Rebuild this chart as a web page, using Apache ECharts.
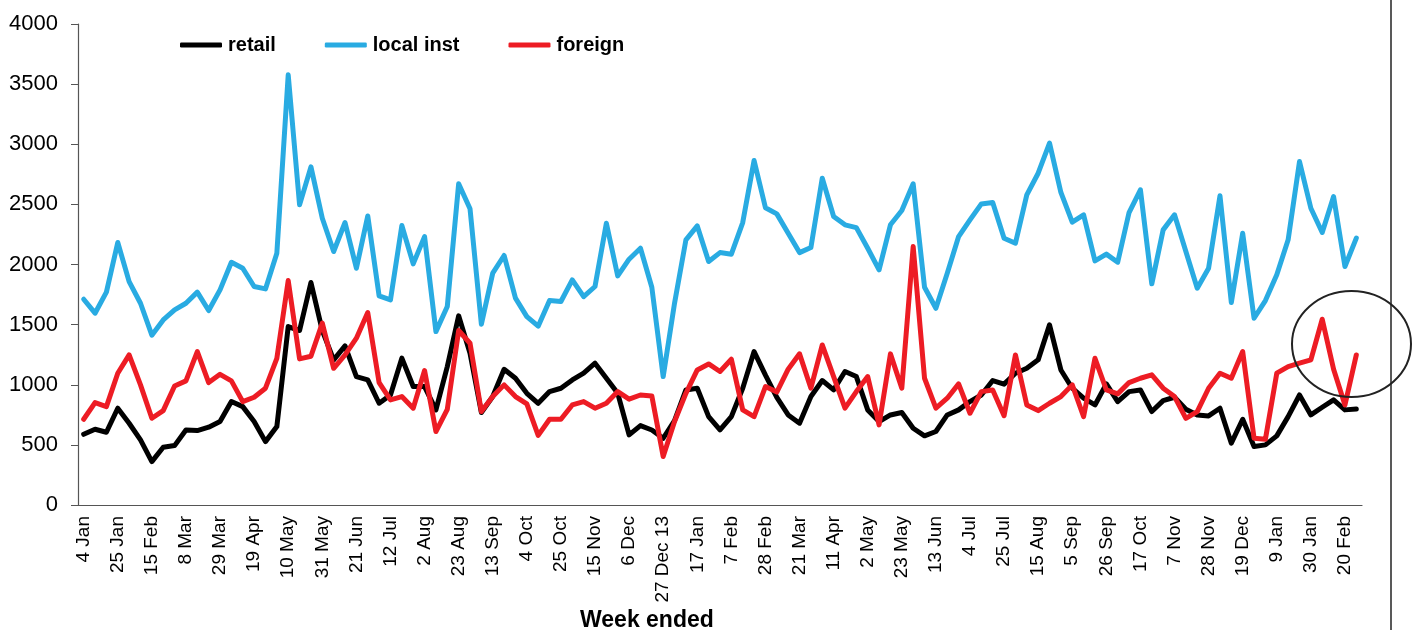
<!DOCTYPE html>
<html>
<head>
<meta charset="utf-8">
<script src="https://cdn.jsdelivr.net/npm/echarts@6/dist/echarts.min.js"></script>
<style>
  html, body { margin: 0; padding: 0; background: #fff; }
  #chart { width: 1419px; height: 630px; }
</style>
</head>
<body>
<div id="chart"></div>
<script>
// labels shown every third week
const tickLabels = ['4 Jan', '25 Jan', '15 Feb', '8 Mar', '29 Mar', '19 Apr', '10 May', '31 May',
  '21 Jun', '12 Jul', '2 Aug', '23 Aug', '13 Sep', '4 Oct', '25 Oct', '15 Nov', '6 Dec',
  '27 Dec 13', '17 Jan', '7 Feb', '28 Feb', '21 Mar', '11 Apr', '2 May', '23 May', '13 Jun',
  '4 Jul', '25 Jul', '15 Aug', '5 Sep', '26 Sep', '17 Oct', '7 Nov', '28 Nov', '19 Dec',
  '9 Jan', '30 Jan', '20 Feb']

const retail = [588, 630, 605, 805, 680, 541, 361, 480, 494, 624, 619, 647, 694, 860, 818, 694,
  527, 652, 1484, 1451, 1850, 1450, 1207, 1323, 1068, 1040, 846, 915, 1221, 985, 985, 791,
  1151, 1573, 1262, 769, 902, 1129, 1054, 929, 846, 943, 971, 1040, 1096, 1179, 1054, 929,
  583, 660, 624, 555, 702, 957, 971, 735, 624, 735, 971, 1276, 1080, 895, 749, 680, 902,
  1035, 957, 1110, 1068, 791, 694, 749, 769, 638, 575, 611, 749, 791, 860, 915, 1035, 1005,
  1096, 1137, 1207, 1498, 1123, 971, 888, 832, 1007, 860, 943, 957, 777, 868, 896, 796, 749,
  741, 805, 514, 713, 486, 500, 575, 735, 915, 749, 813, 874, 791, 799]

const localInst = [1711, 1595, 1770, 2183, 1858, 1678, 1412, 1539, 1623, 1678, 1770, 1617, 1789,
  2019, 1969, 1817, 1797, 2094, 3577, 2496, 2812, 2385, 2108, 2349, 1969, 2404, 1739, 1706,
  2324, 2005, 2232, 1442, 1650, 2671, 2463, 1503, 1928, 2075, 1720, 1567, 1487, 1700, 1692,
  1872, 1733, 1817, 2343, 1905, 2044, 2135, 1811, 1068, 1678, 2205, 2321, 2025, 2099, 2086,
  2349, 2865, 2472, 2421, 2260, 2099, 2141, 2718, 2399, 2330, 2307, 2135, 1955, 2330, 2449,
  2671, 1811, 1636, 1928, 2232, 2371, 2504, 2515, 2219, 2177, 2579, 2759, 3009, 2599, 2352,
  2413, 2030, 2086, 2019, 2432, 2621, 1839, 2288, 2413, 2108, 1803, 1969, 2571, 1684, 2260,
  1553, 1700, 1914, 2205, 2856, 2468, 2266, 2565, 1983, 2219]

const foreign = [713, 852, 818, 1096, 1248, 999, 721, 785, 990, 1032, 1276, 1018, 1087, 1032, 860,
  896, 971, 1220, 1867, 1215, 1237, 1512, 1137, 1248, 1387, 1600, 1018, 874, 902, 805, 1118,
  611, 796, 1451, 1345, 777, 902, 999, 902, 841, 579, 713, 713, 832, 860, 805, 846, 943, 880,
  915, 907, 403, 694, 929, 1123, 1173, 1110, 1212, 791, 735, 985, 939, 1129, 1257, 971, 1331,
  1068, 805, 943, 1068, 666, 1257, 971, 2149, 1054, 805, 888, 1007, 763, 943, 957, 742, 1248,
  832, 785, 846, 902, 999, 735, 1220, 957, 924, 1018, 1054, 1082, 971, 902, 721, 777, 971,
  1096, 1054, 1276, 555, 547, 1096, 1151, 1179, 1207, 1545, 1129, 832, 1248]

// one category per week, only every third one carries a label
const weeks = retail.map((v, i) => (i % 3 === 0 ? tickLabels[i / 3] : ''))

const font = '"Liberation Sans", Arial, sans-serif'
const axisColor = '#555'

const lineSeries = (name, data, color) => ({
  name,
  type: 'line',
  data,
  symbol: 'none',
  smooth: false,
  lineStyle: { color, width: 5, cap: 'round', join: 'round' },
  itemStyle: { color },
})

const myChart = echarts.init(document.getElementById('chart'))
const option = {
  backgroundColor: '#fff',
  animation: false,
  textStyle: { fontFamily: font },
  title: {
    text: 'Week ended',
    left: 575,
    top: 604,
    textStyle: { fontFamily: font, fontSize: 23, fontWeight: 'bold', color: '#000' },
  },
  legend: {
    left: 175,
    top: 30,
    icon: 'roundRect',
    itemWidth: 42,
    itemHeight: 5,
    itemGap: 49,
    textStyle: { fontFamily: font, fontSize: 20, fontWeight: 'bold', color: '#000', padding: [0, 0, 0, 1] },
    data: ['retail', 'local inst', 'foreign'],
  },
  grid: { left: 78, top: 24, right: 57, bottom: 125, containLabel: false },
  xAxis: {
    type: 'category',
    data: weeks,
    boundaryGap: true,
    axisLine: { lineStyle: { color: axisColor, width: 1.2 } },
    axisTick: { interval: 2, length: 6, lineStyle: { color: axisColor } },
    axisLabel: {
      interval: 2,
      rotate: 90,
      margin: 11,
      fontSize: 19,
      fontFamily: font,
      color: '#000',
    },
    splitLine: { show: false },
  },
  yAxis: {
    type: 'value',
    min: 0,
    max: 4000,
    interval: 500,
    axisLine: { show: true, lineStyle: { color: axisColor, width: 1.2 } },
    axisTick: { show: true, length: 7, lineStyle: { color: axisColor } },
    axisLabel: {
      margin: 20,
      fontSize: 22,
      fontFamily: font,
      color: '#000',
      formatter: (v) => String(v),
    },
    splitLine: { show: false },
  },
  graphic: [
    {
      type: 'line',
      shape: { x1: 1391, y1: 0, x2: 1391, y2: 630 },
      style: { stroke: '#222', lineWidth: 1.5 },
    },
    {
      type: 'ellipse',
      shape: { cx: 1351.5, cy: 344, rx: 59.5, ry: 53 },
      style: { stroke: '#222', lineWidth: 2, fill: null },
      z: 100,
    },
  ],
  series: [
    lineSeries('retail', retail, '#000000'),
    lineSeries('local inst', localInst, '#29ABE2'),
    lineSeries('foreign', foreign, '#ED1C24'),
  ],
}
myChart.setOption(option)
</script>
</body>
</html>
